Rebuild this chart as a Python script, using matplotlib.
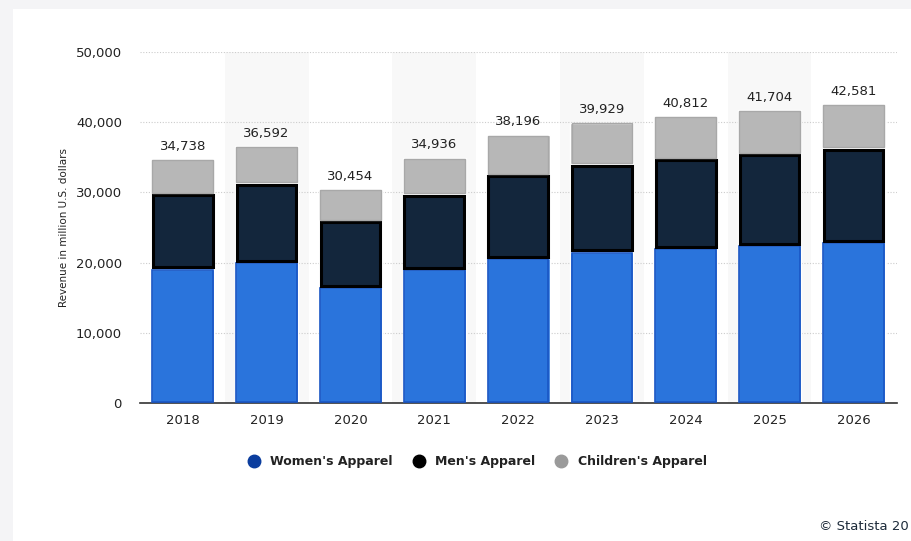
import matplotlib.pyplot as plt
from matplotlib.patches import Rectangle
from matplotlib.lines import Line2D
from matplotlib.ticker import FuncFormatter

years = ["2018", "2019", "2020", "2021", "2022", "2023", "2024", "2025", "2026"]
women = [19150, 20050, 16500, 19050, 20660, 21560, 22040, 22510, 22940]
men = [10610, 11230, 9420, 10670, 11850, 12420, 12700, 12990, 13320]
children = [4978, 5312, 4534, 5216, 5686, 5949, 6072, 6204, 6321]
totals = [34738, 36592, 30454, 34936, 38196, 39929, 40812, 41704, 42581]

fig = plt.figure(figsize=(9.11, 5.41), dpi=100, facecolor="#f4f4f6")
# white card behind everything
fig.patches.append(Rectangle((13 / 911, 0), 1, 1 - 9 / 541, transform=fig.transFigure,
                             facecolor="white", edgecolor="none", zorder=-10))

ax = fig.add_axes([140 / 911, 1 - 403.3 / 541, 757 / 911, 351.6 / 541])
ax.set_facecolor("none")

x = list(range(len(years)))
# faint alternating column bands
for i in x:
    if i % 2 == 1:
        ax.axvspan(i - 0.5, i + 0.5, color="#f8f8f8", zorder=0, lw=0)

w = 0.75
bottoms = [a + b for a, b in zip(women, men)]
ax.bar(x, women, w, color="#2a74dc", edgecolor="white", linewidth=1, zorder=2)
ax.bar(x, men, w, bottom=women, color="#13263c", edgecolor="white", linewidth=1, zorder=2)
ax.bar(x, children, w, bottom=bottoms, color="#b7b7b7", edgecolor="white", linewidth=1, zorder=2)

# shaded rims inside each segment
ax.bar(x, [v - 250 for v in women], w - 0.025, bottom=125, color="none",
       edgecolor="#1a56c4", linewidth=1.2, zorder=3)
ax.bar(x, [m - 350 for m in men], w - 0.04, bottom=[v + 175 for v in women], color="none",
       edgecolor="black", linewidth=2.2, zorder=3)
ax.bar(x, [c - 250 for c in children], w - 0.025, bottom=[b + 125 for b in bottoms], color="none",
       edgecolor="#a8a8a8", linewidth=1.0, zorder=3)

for i, t in enumerate(totals):
    ax.text(i, t + 900, f"{t:,}", ha="center", va="bottom", fontsize=9.5, color="#222222")

ax.set_xlim(-0.51, 8.52)
ax.set_ylim(0, 50000)
ax.set_yticks([0, 10000, 20000, 30000, 40000, 50000])
ax.yaxis.set_major_formatter(FuncFormatter(lambda v, p: f"{int(v):,}"))
ax.grid(axis="y", color="#cccccc", linestyle=(0, (1, 1.5)), linewidth=0.8, zorder=1)
ax.set_axisbelow(True)
ax.set_xticks(x, years)
ax.tick_params(axis="both", length=0, labelsize=9.5, colors="#222222")
ax.tick_params(axis="x", pad=8)
ax.tick_params(axis="y", pad=13)
for s in ["left", "right", "top"]:
    ax.spines[s].set_visible(False)
ax.spines["bottom"].set_color("#333333")
ax.spines["bottom"].set_linewidth(1.2)
ax.set_ylabel("Revenue in million U.S. dollars", fontsize=7.5, color="#222222", labelpad=5)

handles = [
    Line2D([], [], marker="o", ls="none", markersize=9, markerfacecolor="#0b3d9e", markeredgecolor="#0b3d9e"),
    Line2D([], [], marker="o", ls="none", markersize=9, markerfacecolor="black", markeredgecolor="black"),
    Line2D([], [], marker="o", ls="none", markersize=9, markerfacecolor="#9a9a9a", markeredgecolor="#9a9a9a"),
]
leg = fig.legend(handles, ["Women's Apparel", "Men's Apparel", "Children's Apparel"],
                 loc="center", bbox_to_anchor=(474 / 911, 1 - 462 / 541), ncol=3,
                 frameon=False, handletextpad=0.3, columnspacing=1.1, fontsize=9)
for t in leg.get_texts():
    t.set_fontweight("bold")
    t.set_color("#222222")

fig.text(909 / 911, 1 - 527 / 541, "© Statista 20", fontsize=9.5, color="#1d2b3a",
         ha="right", va="center")

fig.savefig("out.png", dpi=100, facecolor=fig.get_facecolor())
